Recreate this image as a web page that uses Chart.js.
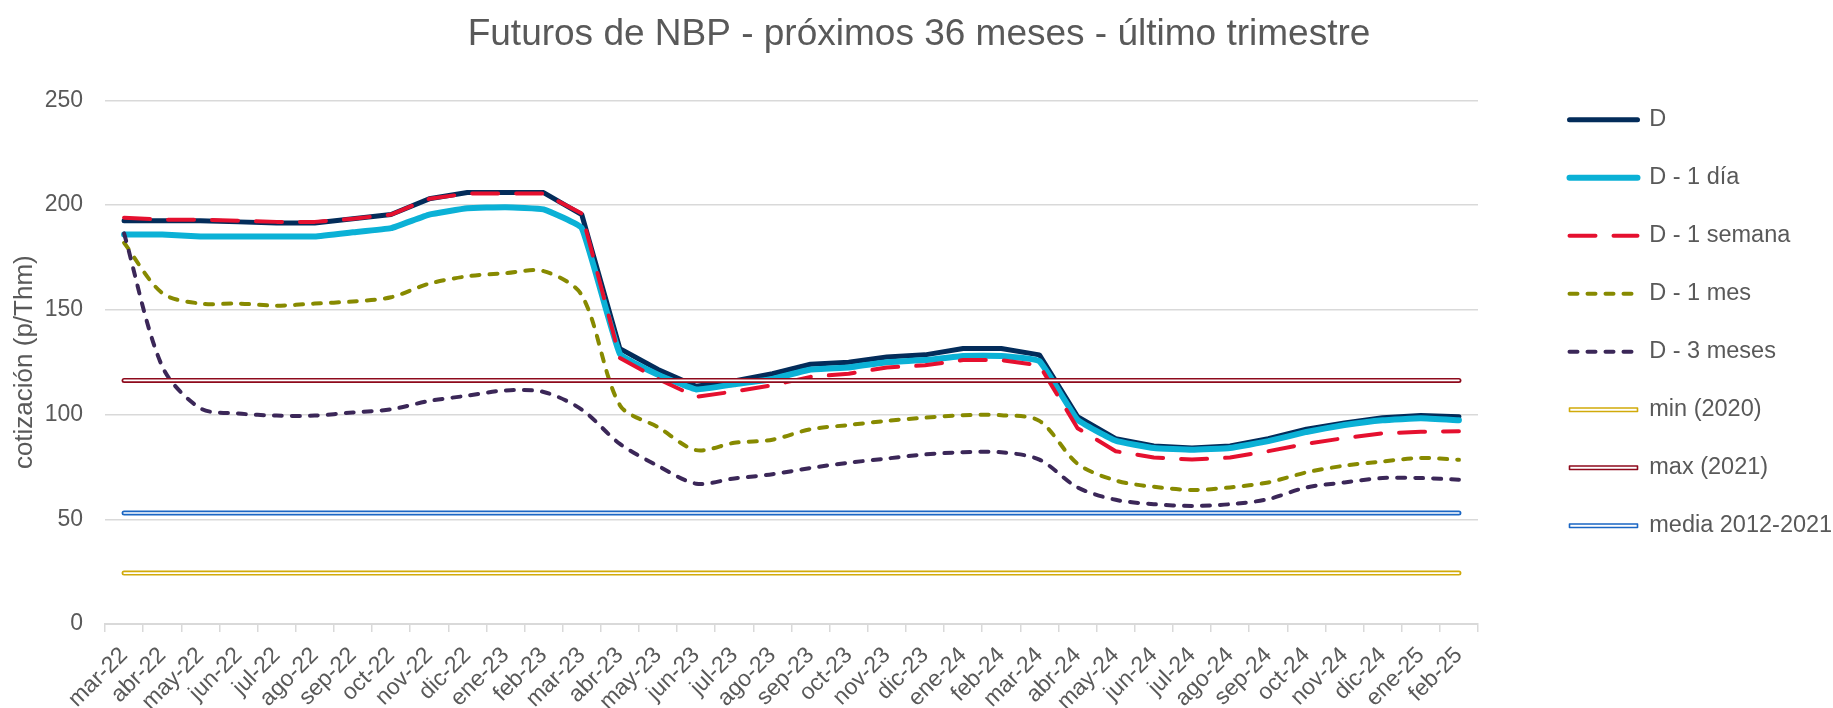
<!DOCTYPE html>
<html>
<head>
<meta charset="utf-8">
<script src="https://cdn.jsdelivr.net/npm/chart.js@4/dist/chart.umd.min.js"></script>
<style>
  html, body { margin: 0; padding: 0; background: #ffffff; }
  #wrap { width: 1833px; height: 708px; }
</style>
</head>
<body>
<div id="wrap"><canvas id="nbpChart" width="1833" height="708"></canvas></div>
<script>
// Categories (36 monthly contracts)
const months = [
    'mar-22', 'abr-22', 'may-22', 'jun-22', 'jul-22', 'ago-22', 'sep-22', 'oct-22', 'nov-22', 'dic-22', 'ene-23', 'feb-23',
    'mar-23', 'abr-23', 'may-23', 'jun-23', 'jul-23', 'ago-23', 'sep-23', 'oct-23', 'nov-23', 'dic-23', 'ene-24', 'feb-24',
    'mar-24', 'abr-24', 'may-24', 'jun-24', 'jul-24', 'ago-24', 'sep-24', 'oct-24', 'nov-24', 'dic-24', 'ene-25', 'feb-25'
];

// Quotes in p/Thm
const seriesD = [
    192.5, 192.5, 192.5, 192, 191.5, 191.5, 193.5, 195.5, 203, 206, 206, 206,
    195.5, 131.5, 121.5, 113.5, 116, 119.5, 124, 125, 127.5, 128.5, 131.5, 131.5,
    128.5, 99, 88.5, 85, 84, 85, 88.5, 93, 96, 98.5, 99.5, 99
];
const seriesDia = [
    186, 186, 185, 185, 185, 185, 187, 189, 195.5, 198.5, 199, 198,
    189, 129, 119, 112, 114.5, 117, 121.5, 122.5, 125, 126, 128, 128,
    125.5, 97.5, 87.5, 84, 83.2, 84, 87.3, 91.7, 95, 97.3, 98.2, 97.3
];
const seriesSemana = [
    194, 193, 193, 192.5, 192, 192, 193.5, 195.5, 203, 205.5, 205.5, 205.5,
    196, 127, 117, 108.5, 111, 114, 118, 119.5, 122.5, 123.5, 126, 126,
    123.5, 93.5, 82.5, 79.5, 78.5, 79.5, 82.5, 86, 88.8, 91, 91.8, 92
];
const seriesMes = [
    182, 158, 153, 153, 152, 153, 154, 156, 162.5, 166, 167.5, 168.5,
    157, 104.5, 94, 83, 86.5, 88, 93, 95, 97, 98.5, 99.7, 99.7,
    97, 76.5, 68.5, 65.5, 64, 65.2, 67.6, 72.4, 75.6, 77.6, 79.3, 78.4
];
const seriesTresMeses = [
    186.5, 123, 103, 100.5, 99.5, 99.5, 101, 102.5, 106.5, 109, 111.5, 110.8,
    102.4, 86, 75.5, 67, 69.5, 71.5, 74.5, 77, 79, 81, 82, 82,
    78.5, 65.2, 59.3, 57.2, 56.4, 57.2, 59.6, 65.2, 67.6, 69.7, 69.7, 68.9
];

// Reference levels
const minLevel = 24.3;    // min (2020)
const maxLevel = 116.3;   // max (2021)
const mediaLevel = 53;    // media 2012-2021

const yTicks = [0, 50, 100, 150, 200, 250];

const textColor = '#595959';
const gridColor = '#d9d9d9';
const fontFamily = '"Liberation Sans", Arial, sans-serif';

function flat(value) {
    return months.map(() => value);
}

function lineSet(label, data, color, width, dash, tension) {
    return {
        label: label,
        data: data,
        borderColor: color,
        backgroundColor: color,
        borderWidth: width,
        borderDash: dash,
        borderCapStyle: 'round',
        borderJoinStyle: 'round',
        tension: tension,
        pointRadius: 0,
        pointHoverRadius: 0,
        fill: false
    };
}

// Double (compound) line: coloured outer stroke + white core
function doubleSet(label, value, color) {
    const outer = lineSet(label, flat(value), color, 5, [], 0);
    outer.legendRect = true;
    const inner = lineSet(undefined, flat(value), '#ffffff', 1.6, [], 0);
    return [outer, inner];
}

const datasets = [
    lineSet('D', seriesD, '#032c5a', 5, [], 0),
    lineSet('D - 1 día', seriesDia, '#0bb1d6', 6, [], 0.1),
    lineSet('D - 1 semana', seriesSemana, '#e5102f', 4, [26, 18], 0),
    lineSet('D - 1 mes', seriesMes, '#878a00', 4, [8, 10], 0.3),
    lineSet('D - 3 meses', seriesTresMeses, '#3b2758', 4, [8, 10], 0.3),
    ...doubleSet('min (2020)', minLevel, '#d1aa0a'),
    ...doubleSet('max (2021)', maxLevel, '#8e0a1c'),
    ...doubleSet('media 2012-2021', mediaLevel, '#1a66c4')
];
// later series drawn on top, like the original
datasets.forEach((ds, i) => { ds.order = -i; });

const ctx = document.getElementById('nbpChart').getContext('2d');
const chart = new Chart(ctx, {
    type: 'line',
    data: { labels: months, datasets: datasets },
    options: {
        responsive: false,
        animation: false,
        devicePixelRatio: 1,
        layout: { padding: { left: 5, right: 0, top: 0, bottom: 0 } },
        plugins: {
            tooltip: { enabled: false },
            title: {
                display: true,
                text: 'Futuros de NBP - próximos 36 meses - último trimestre',
                color: textColor,
                font: { family: fontFamily, size: 37, weight: 'normal' },
                padding: { top: 13, bottom: 43 }
            },
            legend: {
                position: 'right',
                align: 'start',
                maxWidth: 298,
                title: { display: true, text: ' ', font: { size: 10 }, padding: { top: 61.5, bottom: 0 } },
                labels: {
                    color: textColor,
                    font: { family: fontFamily, size: 23.5 },
                    usePointStyle: true,
                    pointStyleWidth: 68,
                    boxHeight: 3.5,
                    padding: 34.5,
                    generateLabels: (c) => c.data.datasets
                        .map((ds, i) => ({ ds, i }))
                        .filter(o => o.ds.label)
                        .map(({ ds, i }) => ({
                            text: ds.label,
                            datasetIndex: i,
                            hidden: false,
                            fontColor: textColor,
                            pointStyle: ds.legendRect ? 'rect' : 'line',
                            strokeStyle: ds.borderColor,
                            fillStyle: '#ffffff',
                            lineWidth: ds.legendRect ? 1.6 : ds.borderWidth,
                            lineDash: ds.borderDash,
                            lineCap: 'round',
                            lineJoin: 'round'
                        }))
                }
            }
        },
        scales: {
            x: {
                offset: true,
                grid: {
                    offset: true,
                    drawOnChartArea: false,
                    drawTicks: true,
                    tickLength: 8,
                    color: gridColor,
                    lineWidth: 1.5
                },
                border: { display: true, color: gridColor, width: 2 },
                ticks: {
                    color: textColor,
                    font: { family: fontFamily, size: 23 },
                    autoSkip: false,
                    minRotation: 45,
                    maxRotation: 45,
                    padding: 10
                },
                // rotated labels may hang left under the y axis, as in the original
                afterFit: (scale) => {
                    scale.height = 84;
                    scale.paddingLeft = 0;
                    scale.paddingRight = 0;
                }
            },
            y: {
                min: 0,
                max: 250,
                afterBuildTicks: (scale) => { scale.ticks = yTicks.map(v => ({ value: v })); },
                afterFit: (scale) => { scale.width = 100; },
                grid: { color: gridColor, lineWidth: 1.5, drawTicks: false },
                border: { display: false },
                ticks: {
                    color: textColor,
                    font: { family: fontFamily, size: 23 },
                    padding: 22
                },
                title: {
                    display: true,
                    text: 'cotización (p/Thm)',
                    color: textColor,
                    font: { family: fontFamily, size: 26 }
                }
            },
            // empty spacer between plot and legend
            spacer: {
                type: 'linear',
                position: 'right',
                display: true,
                grid: { display: false, drawTicks: false },
                border: { display: false },
                ticks: { display: false },
                afterFit: (scale) => { scale.width = 57; }
            }
        }
    }
});
</script>
</body>
</html>
